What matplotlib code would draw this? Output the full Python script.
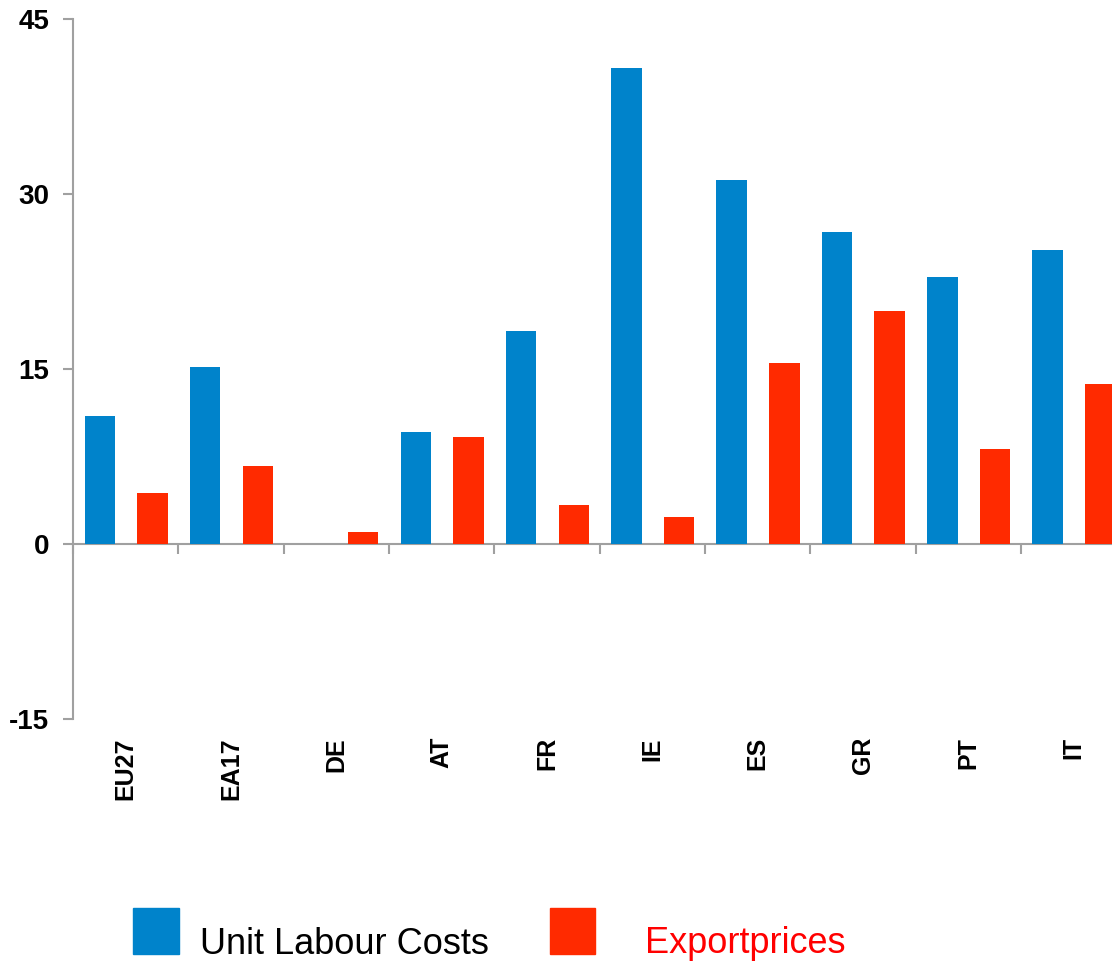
import numpy as np
import matplotlib.pyplot as plt
from matplotlib.patches import Rectangle

plt.rcParams['font.family'] = ['Liberation Sans', 'DejaVu Sans']
plt.rcParams['axes.unicode_minus'] = False

# Veränderung in %
countries = ['EU27', 'EA17', 'DE', 'AT', 'FR', 'IE', 'ES', 'GR', 'PT', 'IT']
unit_labour_costs = [11.0, 15.2, 0.0, 9.6, 18.25, 40.8, 31.2, 26.7, 22.9, 25.2]
export_prices = [4.35, 6.65, 1.05, 9.2, 3.3, 2.35, 15.55, 19.95, 8.1, 13.7]

blue = '#0083cb'
red = '#ff2a00'
grey = '#a0a0a0'

fig = plt.figure(figsize=(11.12, 9.63), dpi=100)
ax = fig.add_axes([0.0657, 0.2534, 0.947, 0.727])

x = np.arange(len(countries))
w = 0.29
ax.bar(x - 0.245, unit_labour_costs, w, color=blue, linewidth=0)
ax.bar(x + 0.255, export_prices, w, color=red, linewidth=0)

ax.set_xlim(-0.5, len(countries) - 0.5)
ax.set_ylim(-15, 45)
ax.set_yticks([-15, 0, 15, 30, 45])
ax.tick_params(axis='y', direction='out', length=7, width=1.5, color=grey,
               labelsize=20, pad=10)
for lbl in ax.get_yticklabels():
    lbl.set_fontweight('bold')

# Ländernamen unten, gedreht
ax.set_xticks(x)
ax.set_xticklabels(countries, rotation=90, fontsize=18, fontweight='bold')
ax.tick_params(axis='x', length=0, pad=13)

for side in ['top', 'right', 'bottom']:
    ax.spines[side].set_visible(False)
ax.spines['left'].set_color(grey)
ax.spines['left'].set_linewidth(1.5)

# Nulllinie mit Trennstrichen zwischen den Ländern
zero = ax.secondary_xaxis(15 / 60)
zero.set_xticks(np.arange(len(countries) + 1) - 0.5)
zero.set_xticklabels([])
zero.tick_params(direction='out', length=7, width=1.5, color=grey)
zero.spines['bottom'].set_color(grey)
zero.spines['bottom'].set_linewidth(1.5)

# Legende
fig.patches.append(Rectangle((133 / 1112, 1 - 954 / 963), 46 / 1112, 46 / 963,
                             transform=fig.transFigure, color=blue))
fig.text(200 / 1112, 1 - 954 / 963, 'Unit Labour Costs', fontsize=26,
         color='black', va='baseline')
fig.patches.append(Rectangle((550 / 1112, 1 - 954 / 963), 45 / 1112, 46 / 963,
                             transform=fig.transFigure, color=red))
fig.text(645 / 1112, 1 - 953 / 963, 'Exportprices', fontsize=26,
         color='#ff0000', va='baseline')

plt.savefig('out.png', dpi=100)
plt.close()
